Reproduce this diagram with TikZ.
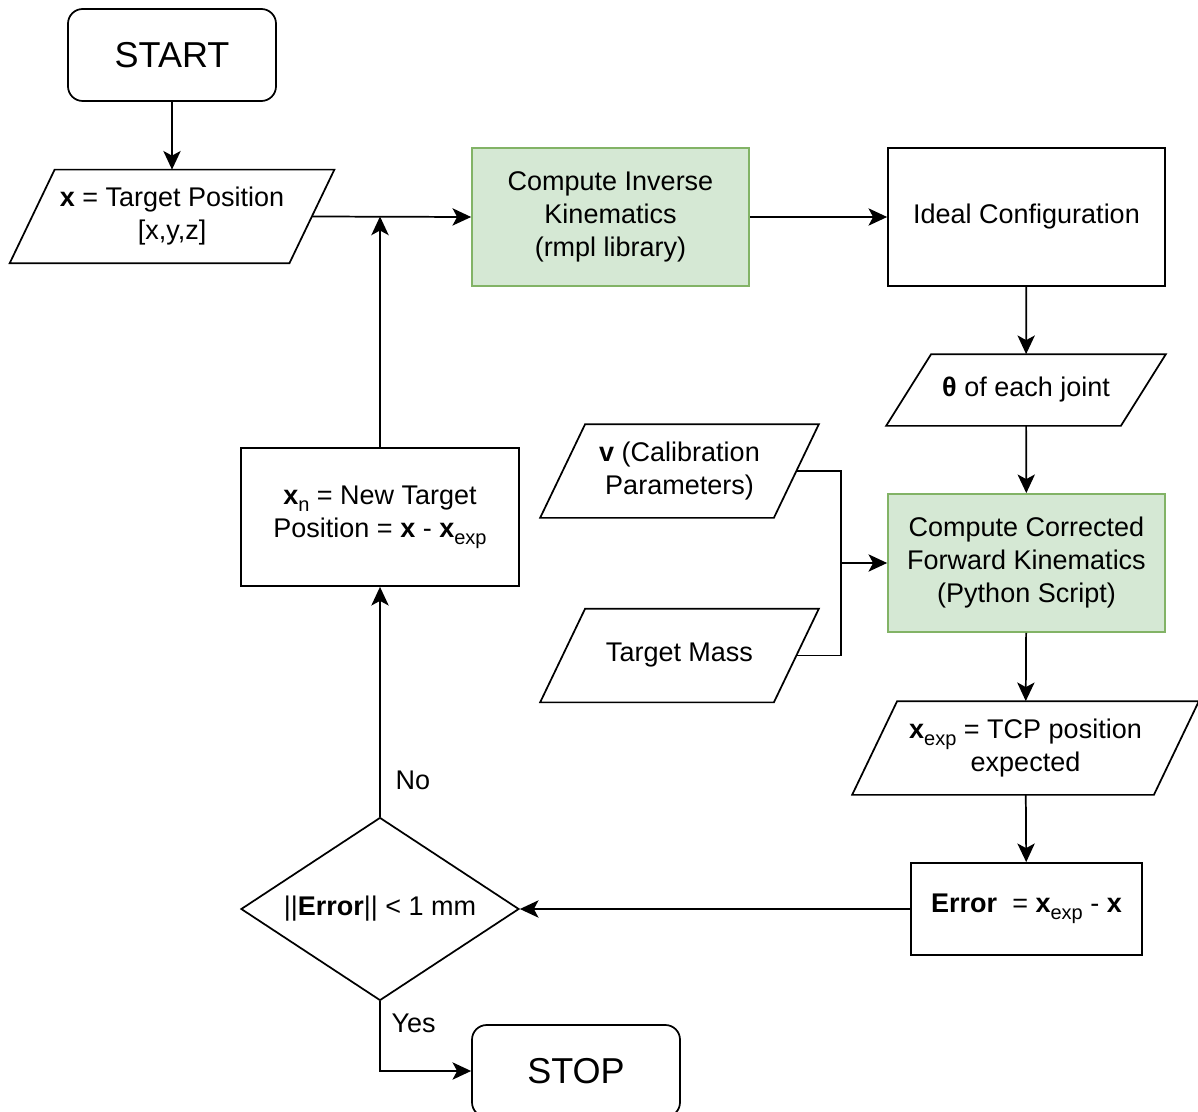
\documentclass[tikz,border=0pt]{standalone}
\usepackage{fontspec}
\setmainfont{Liberation Sans}
\usetikzlibrary{arrows.meta,shapes.geometric}

\definecolor{calcfill}{HTML}{D5E8D4}
\definecolor{calcline}{HTML}{82B366}

% lowered index, as in x_exp
\newcommand{\lowidx}[1]{\raisebox{-5pt}{\fontsize{15}{15}\selectfont#1}}
% horizontal offset of the slanted sides of the data boxes
\newcommand{\ioslant}{33.75pt}
\newcommand{\iohalf}{16.875pt}

\begin{document}
\begin{tikzpicture}[x=0.75pt,y=-0.75pt,line width=1.3pt,
    >={Stealth[length=14pt,width=13pt,inset=3.5pt]},
    font=\fontsize{20.25}{24.75}\selectfont,
    term/.style={draw,rounded corners=11pt,minimum width=156pt,
        minimum height=69pt,font=\fontsize{27}{32}\selectfont},
    proc/.style={draw,align=center,inner sep=0pt,
        minimum width=207.75pt,minimum height=103.5pt},
    calcbox/.style={proc,fill=calcfill,draw=calcline},
    io/.style={align=center,inner sep=0pt,minimum height=69pt,
        minimum width=207.75pt,
        append after command={\pgfextra{
            \draw ([xshift=\ioslant]\tikzlastnode.north west)
                -- (\tikzlastnode.north east)
                -- ([xshift=-\ioslant]\tikzlastnode.south east)
                -- (\tikzlastnode.south west) -- cycle;}}},
    decision/.style={draw,diamond,aspect=1.52,inner sep=0pt,
        minimum width=208.5pt,minimum height=137.25pt},
    lbl/.style={anchor=west,inner sep=0pt,xshift=11pt}]
    \useasboundingbox (0,0) rectangle (1198,1112);

    % Start and the target position.
    \node[term] (start) at (172,55) {START};
    \node[io,minimum width=242.25pt] (xin) at (172,216.5)
        {\textbf{x} = Target Position\\{[x,y,z]}};

    % Upper row: inverse kinematics.
    \node[calcbox] (ik) at (610.5,217)
        {Compute Inverse\\Kinematics\\(rmpl library)};
    \node[proc] (ideal) at (1026.5,217) {Ideal Configuration};
    \node[io,minimum width=208.5pt,minimum height=52.5pt] (theta) at (1026,390)
        {\textbf{θ} of each joint};

    % Inputs of the corrected forward kinematics.
    \node[io] (calib) at (679.5,471)
        {\textbf{v} (Calibration\\Parameters)};
    \node[io] (mass) at (679.5,655.5) {Target Mass};
    \node[calcbox] (fk) at (1026.5,563)
        {Compute Corrected\\Forward Kinematics\\(Python Script)};
    \node[io,minimum width=258.75pt] (xexp) at (1025.5,748)
        {\textbf{x}\lowidx{exp} = TCP position\\expected};
    \node[proc,minimum width=173.25pt,minimum height=69pt] (err) at (1026.5,909)
        {\textbf{Error}\ \ = \textbf{x}\lowidx{exp} - \textbf{x}};

    % Check and new target.
    \node[decision] (dec) at (380,909) {||\textbf{Error}|| < 1 mm};
    \node[proc,minimum width=208.5pt] (xn) at (380,517)
        {\textbf{x}\lowidx{n} = New Target\\
         Position = \textbf{x} - \textbf{x}\lowidx{exp}};
    \node[term] (stop) at (576,1071) {STOP};

    % Points on the slanted right sides, and where the two inputs meet.
    \coordinate (xout) at ([xshift=-\iohalf]xin.east);
    \coordinate (calibout) at ([xshift=-\iohalf]calib.east);
    \coordinate (massout) at ([xshift=-\iohalf]mass.east);
    \coordinate (join) at ([xshift=-34.5pt]fk.west);

    % Connectors.
    \draw[->] (start) -- (xin);
    \draw[->] (xout) -- (ik.west);
    \draw[->] (ik) -- (ideal);
    \draw[->] (ideal) -- (theta);
    \draw[->] (theta) -- (fk);
    \draw (calibout) -| (join);
    \draw (massout) -| (join);
    \draw[->] (join) -- (fk.west);
    \draw[->] (fk) -- (xexp);
    \draw[->] (xexp) -- (err);
    \draw[->] (err.west) -- (dec.east);
    \draw[->] (dec) -- node[lbl,pos=0.16] {No} (xn);
    \draw[->] (dec.south) |- node[lbl,pos=0.16,xshift=-3pt] {Yes} (stop.west);
    \draw[->] (xn) -- (xn.north |- xout);
\end{tikzpicture}
\end{document}
